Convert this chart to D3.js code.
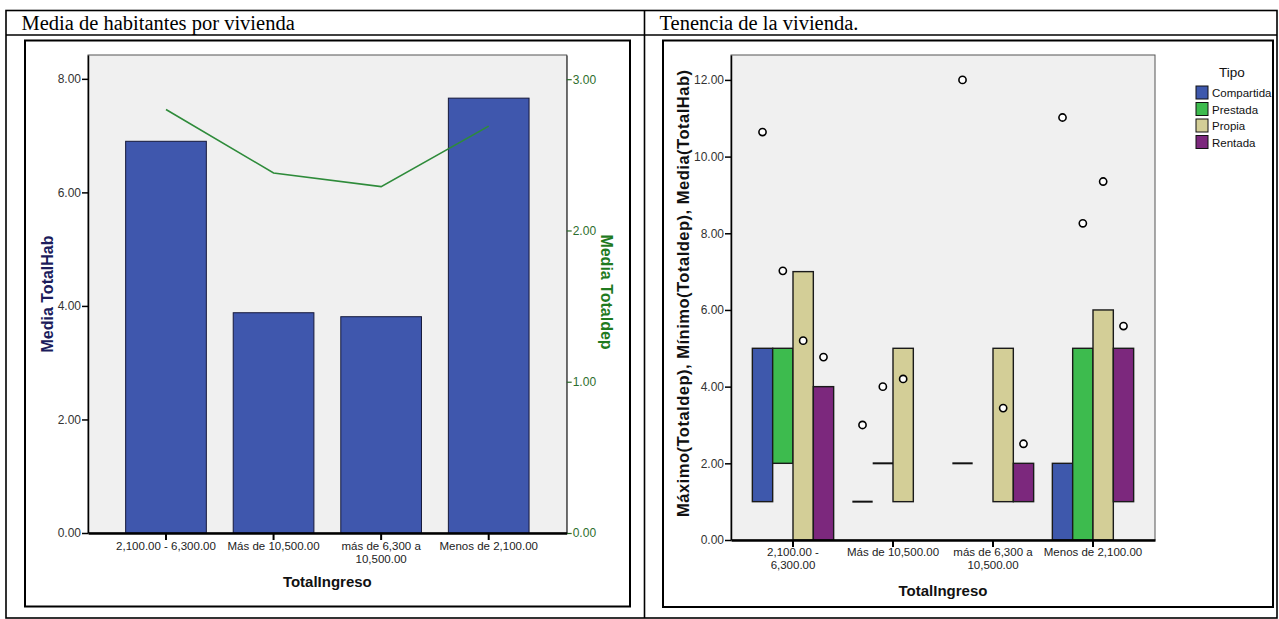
<!DOCTYPE html>
<html><head><meta charset="utf-8">
<script src="https://cdn.jsdelivr.net/npm/d3@7"></script>
<style>body{margin:0;background:#fff} svg{display:block}</style>
</head><body>
<svg id="c" width="1279" height="619"></svg>
<script>
// ---------- DATA ----------
const categories = ["2,100.00 - 6,300.00", "Más de 10,500.00", "más de 6,300 a 10,500.00", "Menos de 2,100.00"];
const leftTickLabels = ["2,100.00 - 6,300.00", "Más de 10,500.00", "más de 6,300 a\n10,500.00", "Menos de 2,100.00"];
const rightTickLabels = ["2,100.00 -\n6,300.00", "Más de 10,500.00", "más de 6,300 a\n10,500.00", "Menos de 2,100.00"];
const mediaTotalHab = [6.90, 3.88, 3.81, 7.66];
const mediaTotaldep = [2.80, 2.38, 2.29, 2.69];
const habTicks = [0, 2, 4, 6, 8];
const depTicks = [0, 1, 2, 3];

const tipos = ["Compartida", "Prestada", "Propia", "Rentada"];
// per income category, per tipo
const maxTotaldep = [[5, 5, 7, 4], [1, 2, 5, null], [2, null, 5, 2], [2, 5, 6, 5]];
const minTotaldep = [[1, 2, 0, 0], [1, 2, 1, null], [2, null, 1, 1], [0, 0, 0, 1]];
const mediaHabTipo = [[10.64, 7.02, 5.2, 4.77], [3.0, 4.0, 4.2, null], [12.0, null, 3.44, 2.51], [11.02, 8.26, 9.35, 5.58]];
const tenenciaTicks = [0, 2, 4, 6, 8, 10, 12];

const tituloIzq = "Media de habitantes por vivienda";
const tituloDer = "Tenencia de la vivienda.";

// ---------- STYLE ----------
const tipoColors = ["#3e58ac", "#3dbb4e", "#d3ce97", "#7c287d"];
const barBlue = "#3f57ad";
const lineGreen = "#2e8b3a";
const sans = "'Liberation Sans', Arial, sans-serif";
const serif = "'Liberation Serif', 'Times New Roman', serif";
const fmt = d3.format(".2f");

const svg = d3.select("#c");

// ---------- TABLE ----------
const T = svg.append("g").attr("fill", "none").attr("stroke", "#000").attr("stroke-width", 1.6);
T.append("rect").attr("x", 6).attr("y", 10.5).attr("width", 1271).attr("height", 607.5);
T.append("line").attr("x1", 6).attr("x2", 1277).attr("y1", 35).attr("y2", 35);
T.append("line").attr("x1", 644.5).attr("x2", 644.5).attr("y1", 10.5).attr("y2", 618);
svg.append("text").attr("x", 21.5).attr("y", 30).attr("font-family", serif).attr("font-size", 20.5).text(tituloIzq);
svg.append("text").attr("x", 659.5).attr("y", 30).attr("font-family", serif).attr("font-size", 20.5).text(tituloDer);

// chart frames
svg.append("rect").attr("x", 25).attr("y", 40.5).attr("width", 605).attr("height", 566).attr("fill", "#fff").attr("stroke", "#000").attr("stroke-width", 2);
svg.append("rect").attr("x", 663).attr("y", 40.5).attr("width", 610).attr("height", 566.5).attr("fill", "#fff").attr("stroke", "#000").attr("stroke-width", 2);

function wrapLabels(sel, labels, lh) {
  sel.selectAll(".tick text").each(function (d, i) {
    const t = d3.select(this);
    const lines = labels[i].split("\n");
    t.text(null).attr("dy", null);
    lines.forEach((ln, k) => t.append("tspan").attr("x", 0).attr("dy", k === 0 ? "0.71em" : lh).text(ln));
  });
}

// ---------- LEFT CHART ----------
(function () {
  const L = 88, R = 566.7, TOP = 55, BOT = 533;
  const g = svg.append("g");
  g.append("rect").attr("x", L).attr("y", TOP).attr("width", R - L).attr("height", BOT - TOP)
    .attr("fill", "#f0f0f0").attr("stroke", "#555").attr("stroke-width", 1);
  const x = d3.scaleBand().domain(categories).range([L, R]).paddingInner(0.25).paddingOuter(0.35);
  const yL = d3.scaleLinear().domain([0, 8.42]).range([BOT, TOP]);
  const yR = d3.scaleLinear().domain([0, 3.16]).range([BOT, TOP]);

  g.selectAll("rect.bar").data(mediaTotalHab).join("rect").attr("class", "bar")
    .attr("x", (d, i) => x(categories[i])).attr("width", x.bandwidth())
    .attr("y", d => yL(d)).attr("height", d => yL(0) - yL(d))
    .attr("fill", barBlue).attr("stroke", "#15183a").attr("stroke-width", 1);

  const line = d3.line().x((d, i) => x(categories[i]) + x.bandwidth() / 2).y(d => yR(d));
  g.append("path").datum(mediaTotaldep).attr("d", line).attr("fill", "none")
    .attr("stroke", lineGreen).attr("stroke-width", 1.6);

  const ax = g.append("g").attr("transform", `translate(${L},0)`)
    .call(d3.axisLeft(yL).tickValues(habTicks).tickFormat(fmt).tickSize(6).tickSizeOuter(0));
  ax.select(".domain").attr("stroke", "#000").attr("stroke-width", 1.5);
  ax.selectAll(".tick line").attr("stroke", "#000").attr("stroke-width", 1.5);
  ax.selectAll(".tick text").attr("font-family", sans).attr("font-size", 12).attr("fill", "#333").attr("x", -7);

  const ar = g.append("g").attr("transform", `translate(${R},0)`)
    .call(d3.axisRight(yR).tickValues(depTicks).tickFormat(fmt).tickSize(5).tickSizeOuter(0));
  ar.select(".domain").attr("stroke", "#444").attr("stroke-width", 1);
  ar.selectAll(".tick line").attr("stroke", "#2a6a2a").attr("stroke-width", 1.2);
  ar.selectAll(".tick text").attr("font-family", sans).attr("font-size", 12).attr("fill", "#2d6e2d").attr("x", 6);

  const ab = g.append("g").attr("transform", `translate(0,${BOT})`)
    .call(d3.axisBottom(x).tickSize(7).tickSizeOuter(0));
  ab.select(".domain").attr("stroke", "#000").attr("stroke-width", 2.5);
  ab.selectAll(".tick line").attr("stroke", "#000").attr("stroke-width", 2);
  ab.selectAll(".tick text").attr("font-family", sans).attr("font-size", 11.5).attr("fill", "#222").attr("y", 9);
  wrapLabels(ab, leftTickLabels, 12.5);

  g.append("text").attr("transform", `translate(53,294) rotate(-90)`).attr("text-anchor", "middle")
    .attr("font-family", sans).attr("font-weight", "bold").attr("font-size", 16).attr("fill", "#1c1c5c").text("Media TotalHab");
  g.append("text").attr("transform", `translate(601,292) rotate(90)`).attr("text-anchor", "middle")
    .attr("font-family", sans).attr("font-weight", "bold").attr("font-size", 16).attr("fill", "#1f7a1f").text("Media Totaldep");
  g.append("text").attr("x", (L + R) / 2).attr("y", 587).attr("text-anchor", "middle")
    .attr("font-family", sans).attr("font-weight", "bold").attr("font-size", 15).attr("fill", "#111").text("TotalIngreso");
})();

// ---------- RIGHT CHART ----------
(function () {
  const L = 731, R = 1155, TOP = 55, BOT = 540;
  const g = svg.append("g");
  g.append("rect").attr("x", L).attr("y", TOP).attr("width", R - L).attr("height", BOT - TOP)
    .attr("fill", "#f0f0f0").attr("stroke", "#555").attr("stroke-width", 1);
  const x = d3.scaleBand().domain(categories).range([L, R]).paddingInner(0.187).paddingOuter(0.2135);
  const xs = d3.scaleBand().domain(tipos).range([0, x.bandwidth()]);
  const y = d3.scaleLinear().domain([0, 12.65]).range([BOT, TOP]);
  const color = d3.scaleOrdinal().domain(tipos).range(tipoColors);

  const rows = [];
  categories.forEach((c, i) => tipos.forEach((t, j) => {
    rows.push({ c, t, max: maxTotaldep[i][j], min: minTotaldep[i][j], mean: mediaHabTipo[i][j] });
  }));

  const bars = rows.filter(d => d.max != null && d.max > d.min);
  g.selectAll("rect.bar").data(bars).join("rect").attr("class", "bar")
    .attr("x", d => x(d.c) + xs(d.t)).attr("width", xs.bandwidth())
    .attr("y", d => y(d.max)).attr("height", d => y(d.min) - y(d.max))
    .attr("fill", d => color(d.t)).attr("stroke", "#1a1a1a").attr("stroke-width", 1.4);

  const flat = rows.filter(d => d.max != null && d.max === d.min);
  g.selectAll("line.flat").data(flat).join("line").attr("class", "flat")
    .attr("x1", d => x(d.c) + xs(d.t)).attr("x2", d => x(d.c) + xs(d.t) + xs.bandwidth())
    .attr("y1", d => y(d.max)).attr("y2", d => y(d.max))
    .attr("stroke", "#111").attr("stroke-width", 2);

  const ab = g.append("g").attr("transform", `translate(0,${BOT})`)
    .call(d3.axisBottom(x).tickSize(7).tickSizeOuter(0));
  ab.select(".domain").attr("stroke", "#000").attr("stroke-width", 2.5);
  ab.selectAll(".tick line").attr("stroke", "#000").attr("stroke-width", 2);
  ab.selectAll(".tick text").attr("font-family", sans).attr("font-size", 11.5).attr("fill", "#222").attr("y", 8);
  wrapLabels(ab, rightTickLabels, 12.5);

  const pts = rows.filter(d => d.mean != null);
  g.selectAll("circle.m").data(pts).join("circle").attr("class", "m")
    .attr("cx", d => x(d.c) + xs(d.t) + xs.bandwidth() / 2).attr("cy", d => y(d.mean)).attr("r", 3.6)
    .attr("fill", "#fff").attr("stroke", "#000").attr("stroke-width", 1.6);

  const ax = g.append("g").attr("transform", `translate(${L},0)`)
    .call(d3.axisLeft(y).tickValues(tenenciaTicks).tickFormat(fmt).tickSize(6).tickSizeOuter(0));
  ax.select(".domain").attr("stroke", "#000").attr("stroke-width", 1.5);
  ax.selectAll(".tick line").attr("stroke", "#000").attr("stroke-width", 1.5);
  ax.selectAll(".tick text").attr("font-family", sans).attr("font-size", 12).attr("fill", "#333").attr("x", -7);

  g.append("text").attr("transform", `translate(689,293.5) rotate(-90)`).attr("text-anchor", "middle")
    .attr("font-family", sans).attr("font-weight", "bold").attr("font-size", 16.5).attr("fill", "#111")
    .attr("textLength", 447).attr("lengthAdjust", "spacing")
    .text("Máximo(Totaldep), Mínimo(Totaldep), Media(TotalHab)");
  g.append("text").attr("x", (L + R) / 2).attr("y", 596).attr("text-anchor", "middle")
    .attr("font-family", sans).attr("font-weight", "bold").attr("font-size", 15).attr("fill", "#111").text("TotalIngreso");

  // legend
  const lg = g.append("g");
  lg.append("text").attr("x", 1232).attr("y", 77).attr("text-anchor", "middle")
    .attr("font-family", sans).attr("font-size", 13.5).attr("fill", "#111").text("Tipo");
  const it = lg.selectAll("g.it").data(tipos).join("g").attr("class", "it")
    .attr("transform", (d, i) => `translate(1196,${86 + i * 16.5})`);
  it.append("rect").attr("width", 12).attr("height", 13).attr("fill", d => color(d)).attr("stroke", "#111").attr("stroke-width", 1);
  it.append("text").attr("x", 16).attr("y", 11).attr("font-family", sans).attr("font-size", 11.5).attr("fill", "#111").text(d => d);
})();
</script>
</body></html>
